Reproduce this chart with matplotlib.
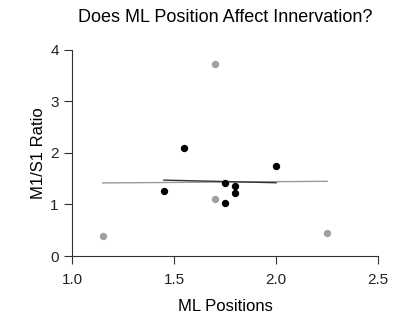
import numpy as np
import matplotlib
matplotlib.use("Agg")
import matplotlib.pyplot as plt

plt.rcParams["font.family"] = ["Liberation Sans", "DejaVu Sans"]

# black points (included group)
x_black = [1.45, 1.55, 1.75, 1.80, 1.80, 1.75, 2.00]
y_black = [1.27, 2.10, 1.42, 1.35, 1.22, 1.02, 1.75]
# gray points
x_gray = [1.15, 1.70, 1.70, 2.25]
y_gray = [0.38, 3.72, 1.10, 0.45]

x_all = x_black + x_gray
y_all = y_black + y_gray

fig = plt.figure(figsize=(3.98, 3.2), dpi=100)
ax = fig.add_axes([0.181, 0.2, 0.769, 0.644])

# regression lines
fit_all = np.polyfit(x_all, y_all, 1)
xs = np.array([min(x_all), max(x_all)])
ax.plot(xs, np.polyval(fit_all, xs), color="#999999", lw=1)
fit_b = np.polyfit(x_black, y_black, 1)
xb = np.array([min(x_black), max(x_black)])
ax.plot(xb, np.polyval(fit_b, xb), color="#333333", lw=1)

ax.scatter(x_gray, y_gray, s=28, color="#a0a0a0", zorder=3, clip_on=False, linewidths=0)
ax.scatter(x_black, y_black, s=28, color="black", zorder=3, clip_on=False, linewidths=0)

ax.set_xlim(1.0, 2.5)
ax.set_ylim(0, 4)
ax.set_xticks([1.0, 1.5, 2.0, 2.5])
ax.set_yticks([0, 1, 2, 3, 4])
for s in ["top", "right"]:
    ax.spines[s].set_visible(False)
for s in ["left", "bottom"]:
    ax.spines[s].set_color("#333333")
ax.tick_params(length=6, color="#333333", labelsize=11, labelcolor="#222222")
ax.tick_params(axis="x", pad=6)

ax.set_title("Does ML Position Affect Innervation?", fontsize=13, pad=20)
ax.set_xlabel("ML Positions", fontsize=12, labelpad=9)
ax.set_ylabel("M1/S1 Ratio", fontsize=12, labelpad=3)

fig.savefig("out.png", dpi=100)
